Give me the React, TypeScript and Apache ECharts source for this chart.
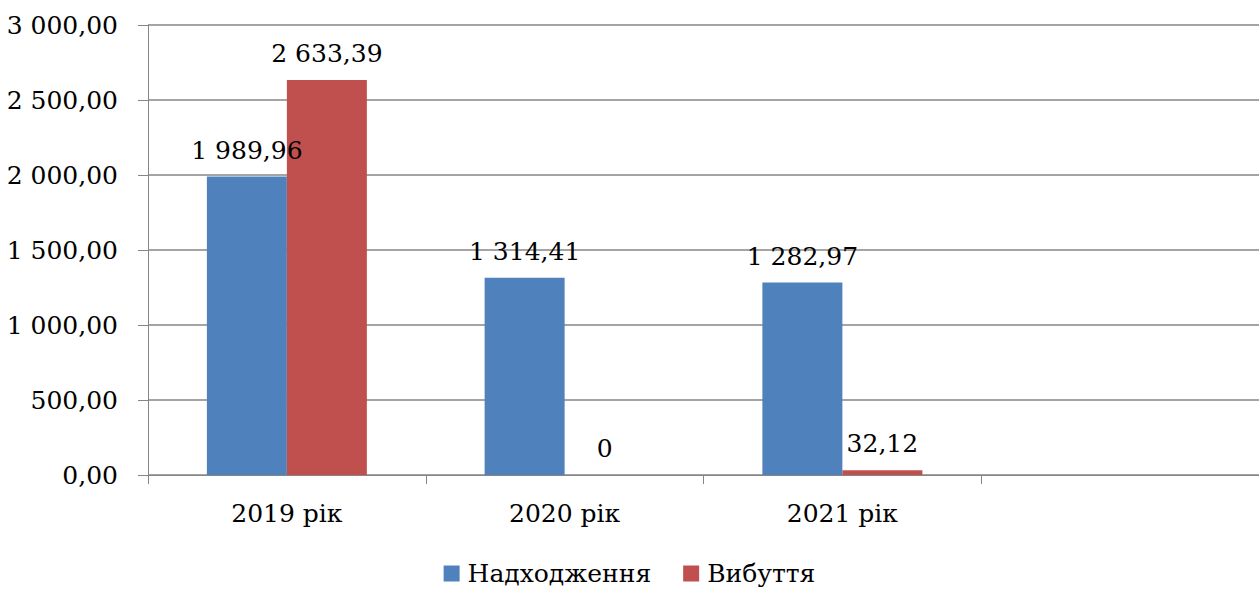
import React, { useEffect, useRef } from "react";
import * as echarts from "echarts";

const categories = ["2019 рік", "2020 рік", "2021 рік", ""];
const incomeValues = [1989.96, 1314.41, 1282.97, null];
const outflowValues = [2633.39, 0, 32.12, null];
const seriesNames = ["Надходження", "Вибуття"];

const FONT = "DejaVu Serif";
const FS = 25;

function fmt(v: number, dec: number): string {
  const fixed = v.toFixed(dec);
  const [ip, dp] = fixed.split(".");
  const withSpaces = ip.replace(/\B(?=(\d{3})+(?!\d))/g, " ");
  return dp !== undefined ? withSpaces + "," + dp : withSpaces;
}

function labelFmt(p: any): string {
  const v = p.value as number;
  if (v === null || v === undefined) return "";
  if (v === 0) return "0";
  return fmt(v, 2);
}

export default function App() {
  const ref = useRef<HTMLDivElement>(null);
  useEffect(() => {
    if (!ref.current) return;
    const chart = echarts.init(ref.current, undefined, { renderer: "svg" });
    const labelCommon = {
      show: true,
      position: "top" as const,
      distance: 14,
      fontFamily: FONT,
      fontSize: FS,
      color: "#000",
      formatter: labelFmt,
    };
    chart.setOption({
      animation: false,
      backgroundColor: "#fff",
      textStyle: { fontFamily: FONT },
      grid: {
        left: 148,
        right: 0,
        top: 25,
        bottom: 114,
        containLabel: false,
        outerBoundsMode: "none",
      },
      legend: {
        bottom: -2,
        left: "center",
        itemWidth: 16,
        itemHeight: 16,
        itemGap: 32,
        icon: "rect",
        textStyle: { fontFamily: FONT, fontSize: FS, color: "#000", padding: [0, 0, 0, 3] },
        data: seriesNames,
      },
      xAxis: {
        type: "category",
        data: categories,
        axisLine: { lineStyle: { color: "#868686", width: 1 } },
        axisTick: { show: true, length: 9, lineStyle: { color: "#868686" } },
        axisLabel: { fontFamily: FONT, fontSize: FS, color: "#000", margin: 26 },
        splitLine: { show: false },
      },
      yAxis: {
        type: "value",
        min: 0,
        max: 3000,
        interval: 500,
        axisLine: { show: true, lineStyle: { color: "#868686", width: 1 } },
        axisTick: { show: true, length: 10, lineStyle: { color: "#868686" } },
        axisLabel: {
          fontFamily: FONT,
          fontSize: FS,
          color: "#000",
          margin: 30,
          formatter: (v: number) => fmt(v, 2),
        },
        splitLine: { show: true, lineStyle: { color: "#868686", width: 1.5 } },
      },
      series: [
        {
          name: seriesNames[0],
          type: "bar",
          data: incomeValues,
          barWidth: 80,
          barGap: "0%",
          itemStyle: { color: "#4F81BD" },
          label: labelCommon,
        },
        {
          name: seriesNames[1],
          type: "bar",
          data: outflowValues,
          barWidth: 80,
          barGap: "0%",
          itemStyle: { color: "#C0504D" },
          label: labelCommon,
        },
      ],
    });
    return () => chart.dispose();
  }, []);
  return (
    <div
      ref={ref}
      style={{ position: "fixed", left: 0, top: 0, width: 1259, height: 589 }}
    />
  );
}
